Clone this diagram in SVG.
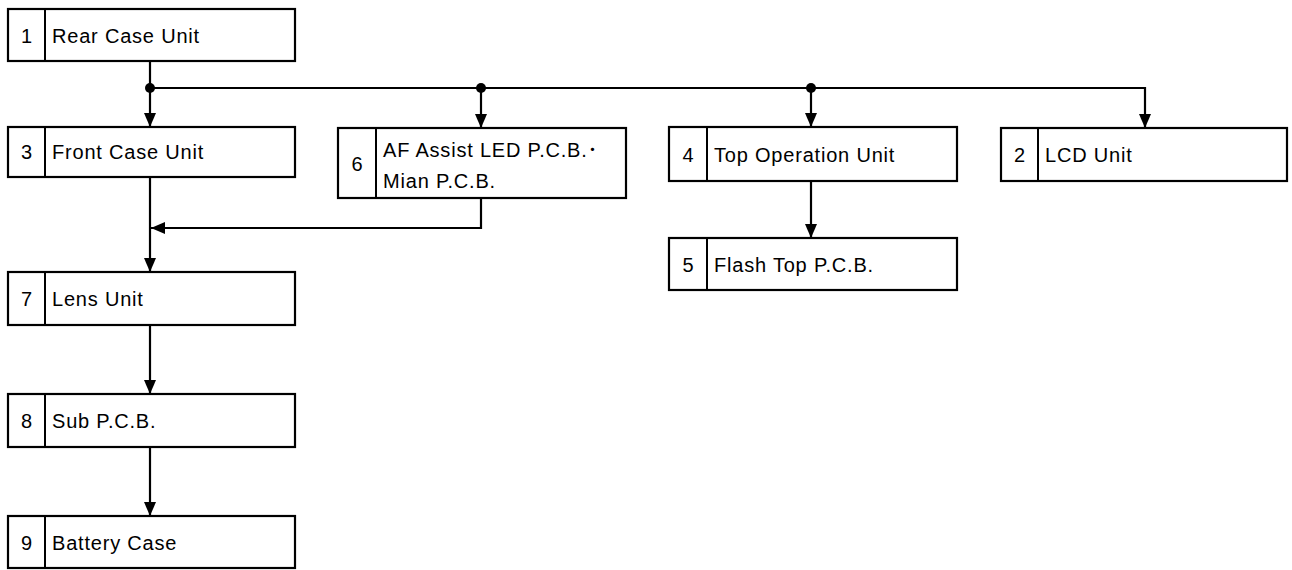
<svg xmlns="http://www.w3.org/2000/svg" width="1292" height="570" viewBox="0 0 1292 570">
<style>
.box{fill:#fff;stroke:#000;stroke-width:2.2}
.div{stroke:#000;stroke-width:2}
.t{font-family:"Liberation Sans","Noto Sans CJK JP",sans-serif;font-size:20px;letter-spacing:0.8px;fill:#000}
.n{font-family:"Liberation Sans","Noto Sans CJK JP",sans-serif;font-size:20px;fill:#000;text-anchor:middle}
.c{fill:none;stroke:#000;stroke-width:2.2}
</style>
<defs>
<marker id="ah" markerUnits="userSpaceOnUse" markerWidth="14" markerHeight="12" viewBox="0 0 14 12" refX="14" refY="6" orient="auto">
<path d="M0,0 L14,6 L0,12 Z" fill="#000"/>
</marker>
</defs>
<rect width="1292" height="570" fill="#fff"/>
<g id="connectors">
<path class="c" d="M150,61 V127" marker-end="url(#ah)"/>
<path class="c" d="M150,88 H1145 V128" marker-end="url(#ah)"/>
<path class="c" d="M481,88 V128" marker-end="url(#ah)"/>
<path class="c" d="M811,88 V127" marker-end="url(#ah)"/>
<path class="c" d="M150,177 V272" marker-end="url(#ah)"/>
<path class="c" d="M481,198 V228 H151" marker-end="url(#ah)"/>
<path class="c" d="M811,181 V238" marker-end="url(#ah)"/>
<path class="c" d="M150,325 V394" marker-end="url(#ah)"/>
<path class="c" d="M150,447 V516" marker-end="url(#ah)"/>
<circle cx="150" cy="88" r="5" fill="#000"/>
<circle cx="481" cy="88" r="5" fill="#000"/>
<circle cx="811" cy="88" r="5" fill="#000"/>
</g>
<g id="node1">
<rect class="box" x="8" y="9" width="287" height="52"/>
<line class="div" x1="45" y1="9" x2="45" y2="61"/>
<text class="n" x="26.5" y="42.5">1</text>
<text class="t" x="52" y="42.5">Rear Case Unit</text>
</g>
<g id="node3">
<rect class="box" x="8" y="127" width="287" height="50"/>
<line class="div" x1="45" y1="127" x2="45" y2="177"/>
<text class="n" x="26.5" y="159">3</text>
<text class="t" x="52" y="159">Front Case Unit</text>
</g>
<g id="node6">
<rect class="box" x="338" y="128" width="288" height="70"/>
<line class="div" x1="376" y1="128" x2="376" y2="198"/>
<text class="n" x="357" y="171">6</text>
<text class="t" x="383" y="157">AF Assist LED P.C.B.･</text>
<text class="t" x="383" y="188">Mian P.C.B.</text>
</g>
<g id="node4">
<rect class="box" x="669" y="127" width="288" height="54"/>
<line class="div" x1="707" y1="127" x2="707" y2="181"/>
<text class="n" x="688" y="161.5">4</text>
<text class="t" x="714" y="161.5">Top Operation Unit</text>
</g>
<g id="node2">
<rect class="box" x="1001" y="128" width="286" height="53"/>
<line class="div" x1="1038" y1="128" x2="1038" y2="181"/>
<text class="n" x="1019.5" y="162">2</text>
<text class="t" x="1045" y="162">LCD Unit</text>
</g>
<g id="node5">
<rect class="box" x="669" y="238" width="288" height="52"/>
<line class="div" x1="707" y1="238" x2="707" y2="290"/>
<text class="n" x="688" y="271.5">5</text>
<text class="t" x="714" y="271.5">Flash Top P.C.B.</text>
</g>
<g id="node7">
<rect class="box" x="8" y="272" width="287" height="53"/>
<line class="div" x1="45" y1="272" x2="45" y2="325"/>
<text class="n" x="26.5" y="306">7</text>
<text class="t" x="52" y="306">Lens Unit</text>
</g>
<g id="node8">
<rect class="box" x="8" y="394" width="287" height="53"/>
<line class="div" x1="45" y1="394" x2="45" y2="447"/>
<text class="n" x="26.5" y="428">8</text>
<text class="t" x="52" y="428">Sub P.C.B.</text>
</g>
<g id="node9">
<rect class="box" x="8" y="516" width="287" height="52"/>
<line class="div" x1="45" y1="516" x2="45" y2="568"/>
<text class="n" x="26.5" y="549.5">9</text>
<text class="t" x="52" y="549.5">Battery Case</text>
</g>
</svg>
